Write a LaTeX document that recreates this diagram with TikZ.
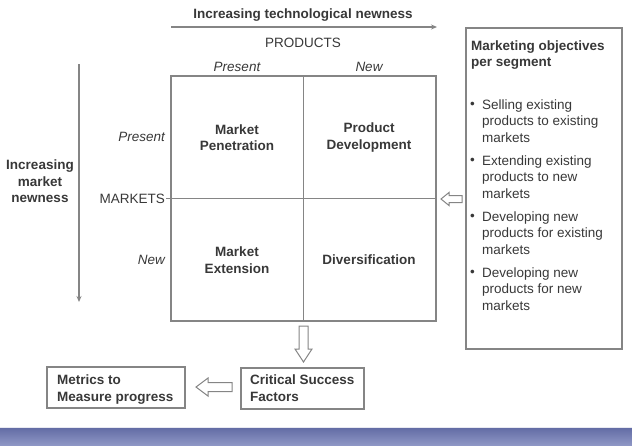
\documentclass[tikz,border=0pt]{standalone}
\usepackage{fontspec}
\setmainfont{Liberation Sans}
\usetikzlibrary{arrows.meta}
\definecolor{txt}{HTML}{383838}
\definecolor{ln}{HTML}{858585}
\definecolor{bandtop}{HTML}{636DA5}
\definecolor{bandbot}{HTML}{8E96C5}
\tikzset{
  lbl/.style={inner sep=0pt, text=txt, font=\fontsize{13.5}{16.4}\selectfont},
  blbl/.style={lbl, font=\fontsize{13.5}{16.4}\selectfont\bfseries},
  ilbl/.style={lbl, font=\fontsize{13.5}{16.4}\selectfont\itshape},
  frame/.style={draw=ln, line width=1.1pt},
  thin/.style={draw=ln, line width=1.2pt},
  hollow/.style={draw=ln, fill=white, line width=1pt, line join=miter},
}
\begin{document}
\begin{tikzpicture}[x=1pt, y=-1pt]
\useasboundingbox (0,0) rectangle (632,445);
\shade[top color=bandtop, bottom color=bandbot] (0,428) rectangle (632,445);
\draw[white!85!bandtop, line width=0.8pt] (0,427.5) -- (632,427.5);

% top axis
\node[blbl] (ttl) at (303,15.5) {Increasing technological newness};
\coordinate (ta) at (171,27);
\coordinate (tb) at (437,27);
\draw[thin, -{Stealth[length=6pt,width=5pt]}] (ta) -- (tb);
\node[lbl] (prod) at (303,43) {PRODUCTS};
\node[ilbl] (pp) at (237,67) {Present};
\node[ilbl] (pn) at (369,67) {New};

% matrix
\node[frame, minimum width=265pt, minimum height=245pt, inner sep=0pt] (mat) at (303.5,198.5) {};
\draw[frame] (mat.north) -- (mat.south);
\draw[frame] (mat.west) -- (mat.east);
\coordinate (tick) at (166,198.5);
\draw[frame] (tick) -- (mat.west);

\node[lbl, anchor=east] (mp) at (165,137) {\itshape Present};
\node[lbl, anchor=east] (mk) at (165,199) {MARKETS};
\node[lbl, anchor=east] (mn) at (165,260) {\itshape New};

% left axis
\coordinate (la) at (79,64);
\coordinate (lb) at (79,302);
\draw[thin, -{Stealth[length=6pt,width=5pt]}] (la) -- (lb);
\node[blbl, align=center] (lt) at (40,181.5) {Increasing\\market\\newness};

% cells
\node[blbl, align=center] (c1) at (237,137.5) {Market\\Penetration};
\node[blbl, align=center] (c2) at (369,137.5) {Product\\Development};
\node[blbl, align=center] (c3) at (237,260) {Market\\Extension};
\node[blbl] (c4) at (369,260) {Diversification};

% right box
\node[frame, minimum width=156pt, minimum height=321pt, inner sep=0pt] (obj) at (544,188.5) {};
\node[blbl, anchor=north west, align=left] (objt) at (471,40.5) {Marketing objectives\\per segment};
\node[lbl] (b1) at (472.5,105) {\textbullet};
\node[lbl, anchor=north west, align=left] (t1) at (482,99.5) {Selling existing\\products to existing\\markets};
\node[lbl] (b2) at (472.5,161) {\textbullet};
\node[lbl, anchor=north west, align=left] (t2) at (482,155.5) {Extending existing\\products to new\\markets};
\node[lbl] (b3) at (472.5,217) {\textbullet};
\node[lbl, anchor=north west, align=left] (t3) at (482,211.5) {Developing new\\products for existing\\markets};
\node[lbl] (b4) at (472.5,273) {\textbullet};
\node[lbl, anchor=north west, align=left] (t4) at (482,267.5) {Developing new\\products for new\\markets};

% hollow arrow right box -> matrix
\draw[hollow] (441,199) -- (449,192.5) -- (449,195.5) -- (462,195.5) -- (462,202.5) -- (449,202.5) -- (449,205.5) -- cycle;

% bottom boxes
\node[frame, minimum width=123pt, minimum height=41pt, inner sep=0pt] (csf) at (302.5,388.5) {};
\node[blbl, anchor=north west, align=left] (csft) at (250,375) {Critical Success\\Factors};
\node[frame, minimum width=138pt, minimum height=41pt, inner sep=0pt] (met) at (116,387.5) {};
\node[blbl, anchor=north west, align=left] (mett) at (57,375) {Metrics to\\Measure progress};

% hollow arrow matrix -> csf
\draw[hollow] (303.5,362) -- (295,349) -- (299,349) -- (299,326) -- (308,326) -- (308,349) -- (312,349) -- cycle;
% hollow arrow csf -> metrics
\draw[hollow] (196,387) -- (208,378) -- (208,382.5) -- (232,382.5) -- (232,391.5) -- (208,391.5) -- (208,396) -- cycle;
\end{tikzpicture}
\end{document}
